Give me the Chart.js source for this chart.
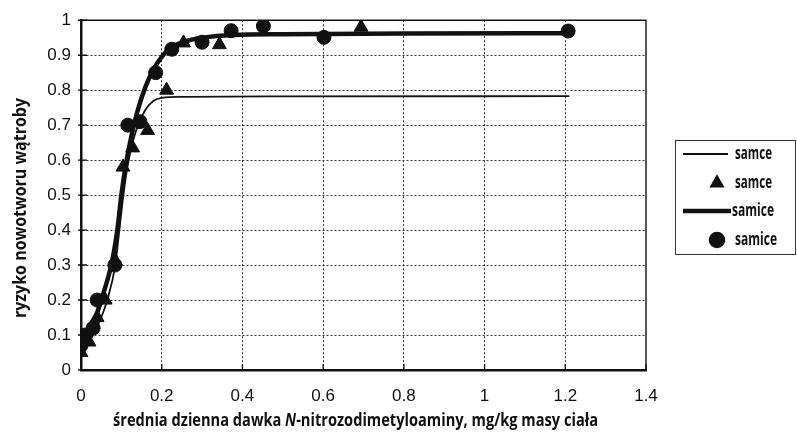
<!DOCTYPE html>
<html>
<head>
<meta charset="utf-8">
<script src="https://cdn.jsdelivr.net/npm/chart.js@4.4.1/dist/chart.umd.min.js"></script>
<style>
  html, body { margin: 0; padding: 0; background: #fff; }
  #wrap { width: 797px; height: 435px; }
</style>
</head>
<body>
<div id="wrap"><canvas id="myChart" width="797" height="435"></canvas></div>
<script>
const samceX = [0.0, 0.02, 0.04, 0.06, 0.086, 0.104, 0.128, 0.165, 0.212, 0.254, 0.343, 0.694];
const samceY = [0.05, 0.08, 0.15, 0.20, 0.31, 0.58, 0.635, 0.685, 0.80, 0.935, 0.93, 0.98];
const samiceX = [0.0, 0.01, 0.03, 0.04, 0.084, 0.116, 0.146, 0.185, 0.225, 0.30, 0.372, 0.452, 0.602, 1.207];
const samiceY = [0.07, 0.10, 0.12, 0.20, 0.30, 0.70, 0.71, 0.85, 0.917, 0.937, 0.97, 0.983, 0.951, 0.969];

// fitted curves (traced)
const fitSamceX = [0, 0.03, 0.05, 0.065, 0.085, 0.095, 0.105, 0.115, 0.13, 0.145, 0.16, 0.18, 0.2, 0.25, 0.5, 1.21];
const fitSamceY = [0.05, 0.10, 0.15, 0.20, 0.30, 0.40, 0.50, 0.58, 0.66, 0.71, 0.745, 0.77, 0.778, 0.781, 0.782, 0.783];
const fitSamiceX = [0, 0.03, 0.05, 0.075, 0.09, 0.1, 0.11, 0.125, 0.14, 0.16, 0.18, 0.2, 0.22, 0.26, 0.3, 0.38, 0.5, 0.8, 1.21];
const fitSamiceY = [0.06, 0.13, 0.20, 0.30, 0.40, 0.50, 0.58, 0.67, 0.74, 0.81, 0.86, 0.895, 0.92, 0.94, 0.95, 0.958, 0.96, 0.962, 0.963];

const xTicks = [0, 0.2, 0.4, 0.6, 0.8, 1, 1.2, 1.4];
const yTicks = [0, 0.1, 0.2, 0.3, 0.4, 0.5, 0.6, 0.7, 0.8, 0.9, 1];
const legendLabels = ["samce", "samce", "samice", "samice"];
const xTitle = ["średnia dzienna dawka ", "N", "-nitrozodimetyloaminy, mg/kg masy ciała"];
const yTitle = "ryzyko nowotworu wątroby";

const ink = "#111";
const pts = (xs, ys) => xs.map((x, i) => ({ x: x, y: ys[i] }));

const extras = {
  id: "extras",
  beforeDatasetsDraw(chart) {
    const { ctx, chartArea: a, scales } = chart;
    ctx.save();
    ctx.strokeStyle = ink;
    ctx.lineWidth = 1.4;
    ctx.beginPath();
    ctx.moveTo(a.left, a.top);
    ctx.lineTo(a.right, a.top);
    ctx.lineTo(a.right, a.bottom);
    ctx.stroke();
    // small inward ticks
    ctx.beginPath();
    xTicks.forEach(v => {
      const px = scales.x.getPixelForValue(v);
      ctx.moveTo(px, a.bottom);
      ctx.lineTo(px, a.bottom - 6);
    });
    yTicks.forEach(v => {
      const py = scales.y.getPixelForValue(v);
      ctx.moveTo(a.left - 3, py);
      ctx.lineTo(a.left + 6, py);
    });
    ctx.stroke();
    ctx.restore();
  },
  afterDraw(chart) {
    const { ctx } = chart;
    ctx.save();
    ctx.fillStyle = ink;
    ctx.textBaseline = "middle";

    // x title with italic N
    const fonts = ['bold 17px "Open Sans"', 'italic bold 17px "Open Sans"', 'bold 17px "Open Sans"'];
    const widths = xTitle.map((t, i) => { ctx.font = fonts[i]; return ctx.measureText(t).width; });
    const total = widths.reduce((s, w) => s + w, 0);
    const k = Math.min(1, 485 / total);
    let x = 113;
    ctx.textAlign = "left";
    xTitle.forEach((t, i) => {
      ctx.font = fonts[i];
      ctx.fillText(t, x, 421, widths[i] * k);
      x += widths[i] * k;
    });

    // y title
    ctx.save();
    ctx.translate(21, 208);
    ctx.rotate(-Math.PI / 2);
    ctx.textAlign = "center";
    ctx.font = 'bold 18px "Open Sans"';
    ctx.fillText(yTitle, 0, 0, 220);
    ctx.restore();

    // legend
    ctx.lineWidth = 1;
    ctx.strokeStyle = "#333";
    ctx.strokeRect(675.5, 140.5, 120, 114);
    const rowsY = [154, 183, 211, 240];
    chart.data.datasets.forEach((ds, i) => {
      const y = rowsY[i];
      if (ds.showLine) {
        ctx.strokeStyle = ink;
        ctx.lineWidth = ds.borderWidth;
        ctx.beginPath();
        ctx.moveTo(683, y);
        ctx.lineTo(i === 2 ? 731 : 728, y);
        ctx.stroke();
      } else {
        ctx.fillStyle = ink;
        ctx.strokeStyle = ink;
        Chart.helpers.drawPoint(ctx, { pointStyle: ds.pointStyle, radius: ds.pointStyle === "triangle" ? 7 : 6, rotation: 0, borderWidth: 1 }, 717, y);
      }
      ctx.fillStyle = ink;
      ctx.font = 'bold 18px "Open Sans"';
      ctx.textAlign = "left";
      ctx.fillText(legendLabels[i], i === 2 ? 732 : 735, y, legendLabels[i].length === 5 ? 37 : 42);
    });
    ctx.restore();
  }
};

const gridColor = (ends) => (c) => (c.tick && ends.includes(c.tick.value)) ? "rgba(0,0,0,0)" : "#333";

new Chart(document.getElementById("myChart").getContext("2d"), {
  type: "scatter",
  data: {
    datasets: [
      { label: legendLabels[0], data: pts(fitSamceX, fitSamceY), showLine: true, borderColor: ink, borderWidth: 1.8, pointRadius: 0, cubicInterpolationMode: "monotone", fill: false },
      { label: legendLabels[1], data: pts(samceX, samceY), pointStyle: "triangle", pointRadius: 8, backgroundColor: ink, borderColor: ink, borderWidth: 1 },
      { label: legendLabels[2], data: pts(fitSamiceX, fitSamiceY), showLine: true, borderColor: ink, borderWidth: 4.5, pointRadius: 0, cubicInterpolationMode: "monotone", fill: false },
      { label: legendLabels[3], data: pts(samiceX, samiceY), pointStyle: "circle", pointRadius: 7, backgroundColor: ink, borderColor: ink, borderWidth: 1 }
    ]
  },
  options: {
    responsive: false,
    animation: false,
    layout: { padding: { left: 0, right: 151, top: 20, bottom: 0 } },
    plugins: { legend: { display: false }, tooltip: { enabled: false } },
    scales: {
      x: {
        type: "linear", min: 0, max: 1.4,
        afterBuildTicks: (s) => { s.ticks = xTicks.map(v => ({ value: v })); },
        afterFit: (s) => { s.height = 65; },
        ticks: { padding: 16, color: ink, font: { family: '"Liberation Sans", Arial', size: 17 }, callback: (v) => String(+v.toFixed(1)), maxRotation: 0 },
        grid: { drawTicks: false, color: gridColor([0, 1.4]), lineWidth: 1 },
        border: { color: ink, width: 2.5, dash: [2, 2] }
      },
      y: {
        min: 0, max: 1,
        afterBuildTicks: (s) => { s.ticks = yTicks.map(v => ({ value: v })); },
        afterFit: (s) => { s.width = 81; },
        ticks: { padding: 10, color: ink, font: { family: '"Liberation Sans", Arial', size: 17 }, callback: (v) => String(+v.toFixed(1)) },
        grid: { drawTicks: false, color: gridColor([0, 1]), lineWidth: 1 },
        border: { color: ink, width: 2.5, dash: [2, 2] }
      }
    }
  },
  plugins: [extras]
});
</script>
</body>
</html>
